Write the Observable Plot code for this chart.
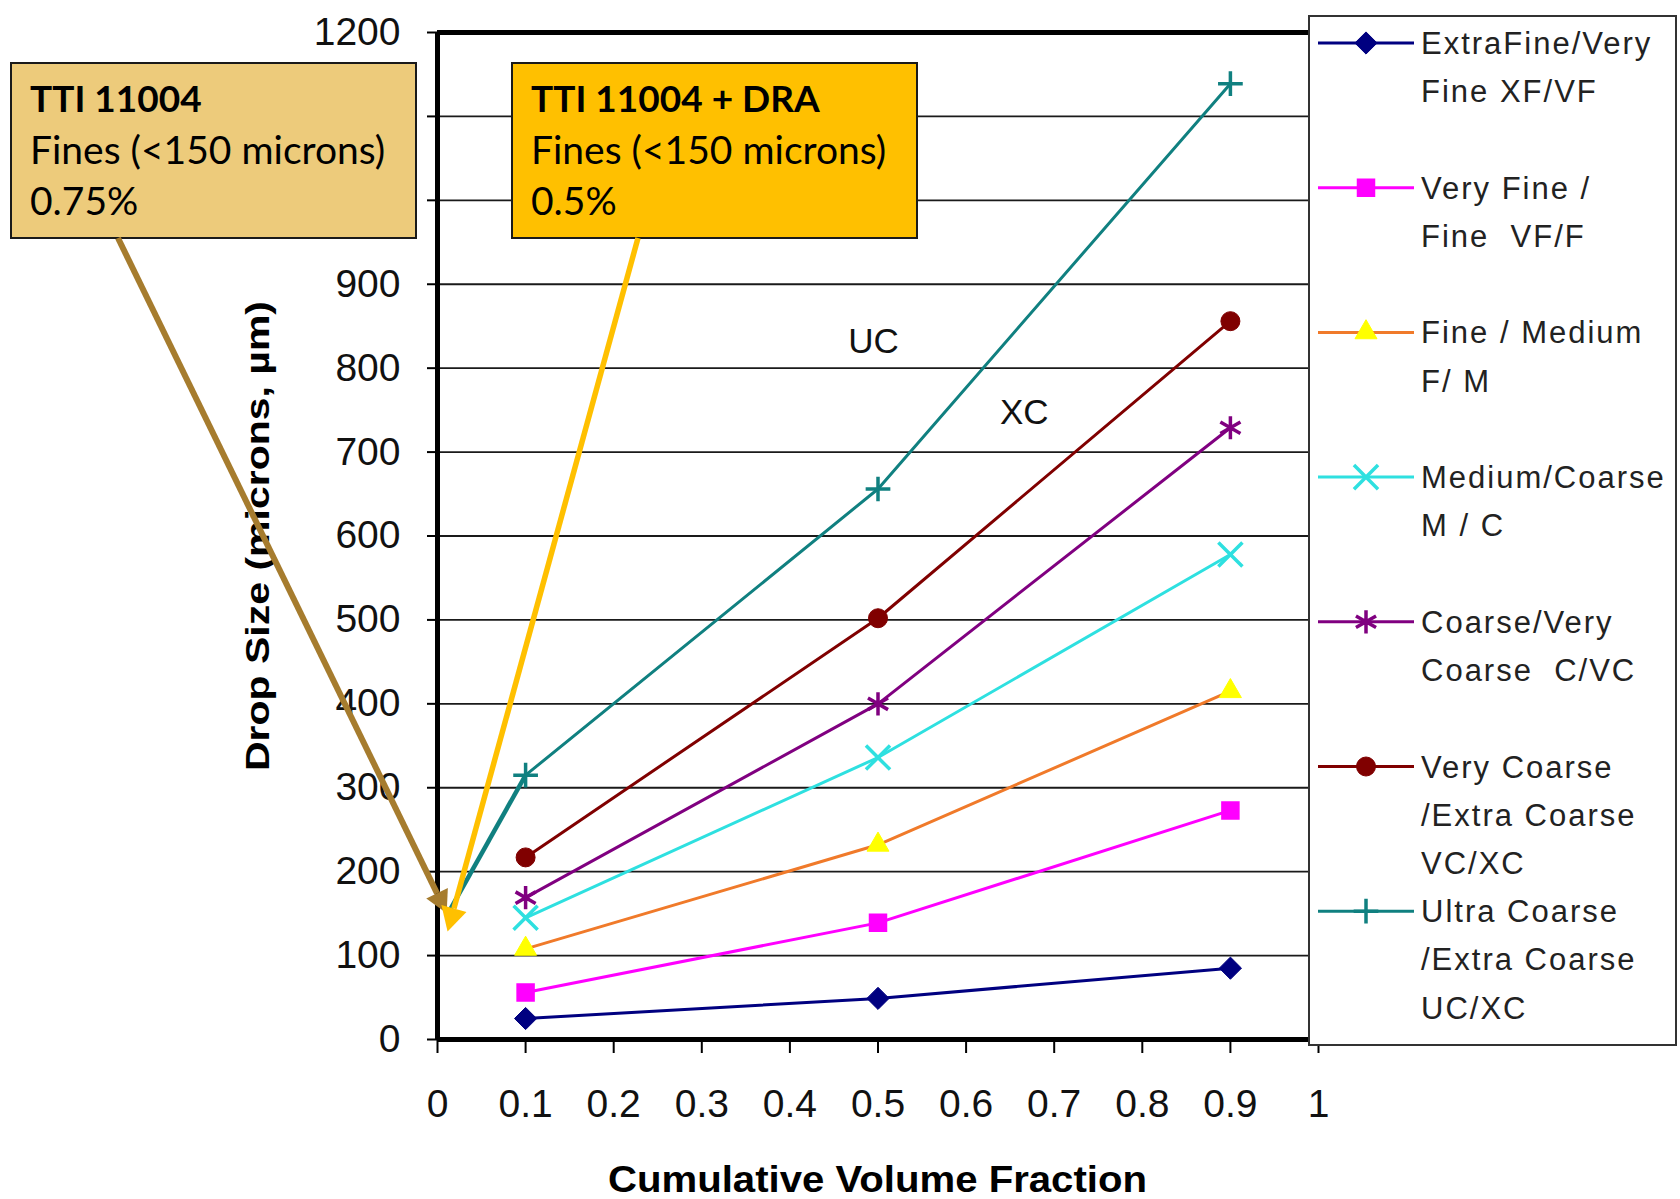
<!DOCTYPE html>
<html><head><meta charset="utf-8">
<script src="https://cdn.jsdelivr.net/npm/d3@7"></script>
<script src="https://cdn.jsdelivr.net/npm/@observablehq/plot@0.6"></script>
<style>
html,body{margin:0;padding:0;background:#fff;}
#chart{position:relative;width:1680px;height:1199px;overflow:hidden;background:#fff;}
</style>
</head><body><div id="chart"></div>
<script>
// ---------- data ----------
const fractions = [0.1, 0.5, 0.9];
const seriesKeys = ["XF/VF", "VF/F", "F/M", "M/C", "C/VC", "VC/XC", "UC/XC"];
const xfvf = [25, 49, 85];
const vff = [56, 139, 273];
const fm = [108, 232, 415];
const mc = [145, 336, 578];
const cvc = [169, 400, 729];
const vcxc = [217, 502, 856];
const ucxc = [315, 656, 1139];
const legendLabels = [
  ["ExtraFine/Very", "Fine XF/VF"],
  ["Very Fine /", "Fine  VF/F"],
  ["Fine / Medium", "F/ M"],
  ["Medium/Coarse", "M / C"],
  ["Coarse/Very", "Coarse  C/VC"],
  ["Very Coarse", "/Extra Coarse", "VC/XC"],
  ["Ultra Coarse", "/Extra Coarse", "UC/XC"]
];
const xTicks = [0, 0.1, 0.2, 0.3, 0.4, 0.5, 0.6, 0.7, 0.8, 0.9, 1];
const yTicks = [0, 100, 200, 300, 400, 500, 600, 700, 800, 900, 1000, 1100, 1200];
const yGrid = [100, 200, 300, 400, 500, 600, 700, 800, 900, 1000, 1100];
const xLabel = "Cumulative Volume Fraction";
const yLabel = "Drop Size (microns, µm)";
const zoneText = ["UC", "XC"];
const zoneX = [0.495, 0.666];
const zoneY = [832, 747];
const callout1 = ["TTI 11004", "Fines (<150 microns)", "0.75%"];
const callout2 = ["TTI 11004 + DRA", "Fines (<150 microns)", "0.5%"];
const arrowTipX = [0.011, 0.012];
const arrowTipY = [150, 128];
const ucLinkX = [0.1, 0.015];
const ucLinkY = [315, 156];

// ---------- styles ----------
const seriesValues = [xfvf, vff, fm, mc, cvc, vcxc, ucxc];
const styles = [
  {line: "#000080", fill: "#000080", stroke: "#000080", sw: 1, symbol: "diamond2", r: 10, dsym: d3.symbolDiamond2},
  {line: "#FF00FF", fill: "#FF00FF", stroke: "#FF00FF", sw: 2, symbol: "square2", r: 10.5, dsym: d3.symbolSquare2},
  {line: "#F07A2A", fill: "#FFFF00", stroke: "#FFFF00", sw: 1, symbol: "triangle2", r: 10.5, dsym: d3.symbolTriangle2},
  {line: "#2EE0E0", fill: "none", stroke: "#2EE0E0", sw: 3.5, symbol: "times", r: 11, dsym: d3.symbolTimes},
  {line: "#800080", fill: "none", stroke: "#800080", sw: 3.5, symbol: "asterisk", r: 11, dsym: d3.symbolAsterisk},
  {line: "#800000", fill: "#800000", stroke: "#800000", sw: 1, symbol: "circle", r: 9.5, dsym: d3.symbolCircle},
  {line: "#108080", fill: "none", stroke: "#108080", sw: 3.5, symbol: "plus", r: 8, dsym: d3.symbolPlus}
];

const rows = [];
seriesValues.forEach((vals, s) => vals.forEach((v, i) => rows.push({s, key: seriesKeys[s], x: fractions[i], y: v})));

const FONT = "'Liberation Sans', Arial, sans-serif";

const marks = [
  Plot.gridY(yGrid, {stroke: "#1a1a1a", strokeOpacity: 1, strokeWidth: 1.8}),
  Plot.axisY(yTicks, {tickSize: 10, tickPadding: 27, fontSize: 39, label: null, strokeWidth: 2, fill: "#111",
    tickFormat: d => d3.format("d")(d)}),
  Plot.axisX(xTicks, {tickSize: 14, tickPadding: 36, fontSize: 39, label: null, strokeWidth: 2, fill: "#111",
    tickFormat: d => d3.format("~g")(d)}),
  Plot.ruleY([0, 1200], {strokeWidth: 5, stroke: "#000"}),
  Plot.ruleX([0], {strokeWidth: 5, stroke: "#000"})
];
styles.forEach((st, s) => {
  const d = rows.filter(r => r.s === s);
  marks.push(Plot.line(d, {x: "x", y: "y", stroke: st.line, strokeWidth: 3}));
});
styles.forEach((st, s) => {
  const d = rows.filter(r => r.s === s);
  marks.push(Plot.dot(d, {x: "x", y: "y", symbol: () => st.symbol, r: st.r, fill: st.fill, stroke: st.stroke, strokeWidth: st.sw}));
});
marks.push(
  Plot.link([0], {x1: () => ucLinkX[0], y1: () => ucLinkY[0], x2: () => ucLinkX[1], y2: () => ucLinkY[1], stroke: "#108080", strokeWidth: 4.5}),
  Plot.text(zoneText, {x: (d, i) => zoneX[i], y: (d, i) => zoneY[i], text: d => d, fontSize: 35, fill: "#111"}),
  Plot.text([yLabel], {text: d => d, frameAnchor: "left", rotate: -90, textAnchor: "start", dx: -192, dy: 235, lineAnchor: "top", fontSize: 33, fontWeight: "bold", fill: "#000"}),
  Plot.text([xLabel], {text: d => d, frameAnchor: "bottom", textAnchor: "start", dx: -270, dy: 152, lineAnchor: "bottom", fontSize: 37, fontWeight: "bold", fill: "#000"})
);

const chart = Plot.plot({
  width: 1680, height: 1199,
  marginLeft: 437, marginRight: 362, marginTop: 32, marginBottom: 160,
  x: {domain: [0, 1], axis: null},
  y: {domain: [0, 1200], axis: null},
  style: {fontFamily: FONT, background: "#fff", color: "#000", overflow: "visible"},
  marks
});
document.getElementById("chart").appendChild(chart);

const svg = d3.select(chart);
svg.selectAll("text").filter(function () { return this.textContent === yLabel; })
  .attr("textLength", 470).attr("lengthAdjust", "spacingAndGlyphs");
svg.selectAll("text").filter(function () { return this.textContent === xLabel; })
  .attr("textLength", 539).attr("lengthAdjust", "spacingAndGlyphs");

// ---------- callouts ----------
const CALLOUT_FONT = "Lato, 'Open Sans', sans-serif";
function callout(x, y, w, h, fill, lines) {
  const g = svg.append("g").attr("text-anchor", "start");
  g.append("rect").attr("x", x).attr("y", y).attr("width", w).attr("height", h)
    .attr("fill", fill).attr("stroke", "#1a1a1a").attr("stroke-width", 2);
  lines.forEach((t, i) => {
    g.append("text").attr("x", x + 19).attr("y", y + 49 + i * 51.5).attr("text-anchor", "start")
      .attr("font-family", CALLOUT_FONT).attr("font-size", i === 0 ? 37 : 39)
      .attr("font-weight", i === 0 ? "bold" : "normal").attr("fill", "#000").text(t);
  });
}
callout(11, 63, 405, 175, "#EDCB7B", callout1);
callout(512, 63, 405, 175, "#FFC000", callout2);

// ---------- legend ----------
const lg = svg.append("g").attr("text-anchor", "start");
lg.append("rect").attr("x", 1309).attr("y", 16).attr("width", 367).attr("height", 1029)
  .attr("fill", "#fff").attr("stroke", "#333").attr("stroke-width", 2);
styles.forEach((st, i) => {
  const yc = 43 + i * 144.7;
  lg.append("line").attr("x1", 1318).attr("x2", 1414).attr("y1", yc).attr("y2", yc)
    .attr("stroke", st.line).attr("stroke-width", 3);
  lg.append("path").attr("transform", `translate(1366,${yc})`)
    .attr("d", d3.symbol(st.dsym, Math.PI * st.r * st.r)())
    .attr("fill", st.fill).attr("stroke", st.stroke).attr("stroke-width", st.sw);
  legendLabels[i].forEach((t, j) => {
    lg.append("text").attr("x", 1421).attr("y", yc + j * 48.2 + 11).attr("text-anchor", "start")
      .attr("font-family", FONT).attr("font-size", 31).style("letter-spacing", "2px")
      .attr("fill", "#222").text(t);
  });
});

// ---------- arrows ----------
const xs = chart.scale("x"), ys = chart.scale("y");
function arrow(x1, y1, x2, y2, color, width, headLen, headHalf) {
  const dx = x2 - x1, dy = y2 - y1, L = Math.hypot(dx, dy), ux = dx / L, uy = dy / L;
  const bx = x2 - ux * headLen, by = y2 - uy * headLen;
  svg.append("line").attr("x1", x1).attr("y1", y1).attr("x2", bx).attr("y2", by)
    .attr("stroke", color).attr("stroke-width", width);
  svg.append("polygon")
    .attr("points", `${x2},${y2} ${bx - uy * headHalf},${by + ux * headHalf} ${bx + uy * headHalf},${by - ux * headHalf}`)
    .attr("fill", color);
}
arrow(11 + 107, 238, xs.apply(arrowTipX[0]), ys.apply(arrowTipY[0]), "#A67C2E", 6, 22, 12);
arrow(512 + 126, 238, xs.apply(arrowTipX[1]), ys.apply(arrowTipY[1]), "#FFC000", 5.5, 24, 13);
</script>
</body></html>
